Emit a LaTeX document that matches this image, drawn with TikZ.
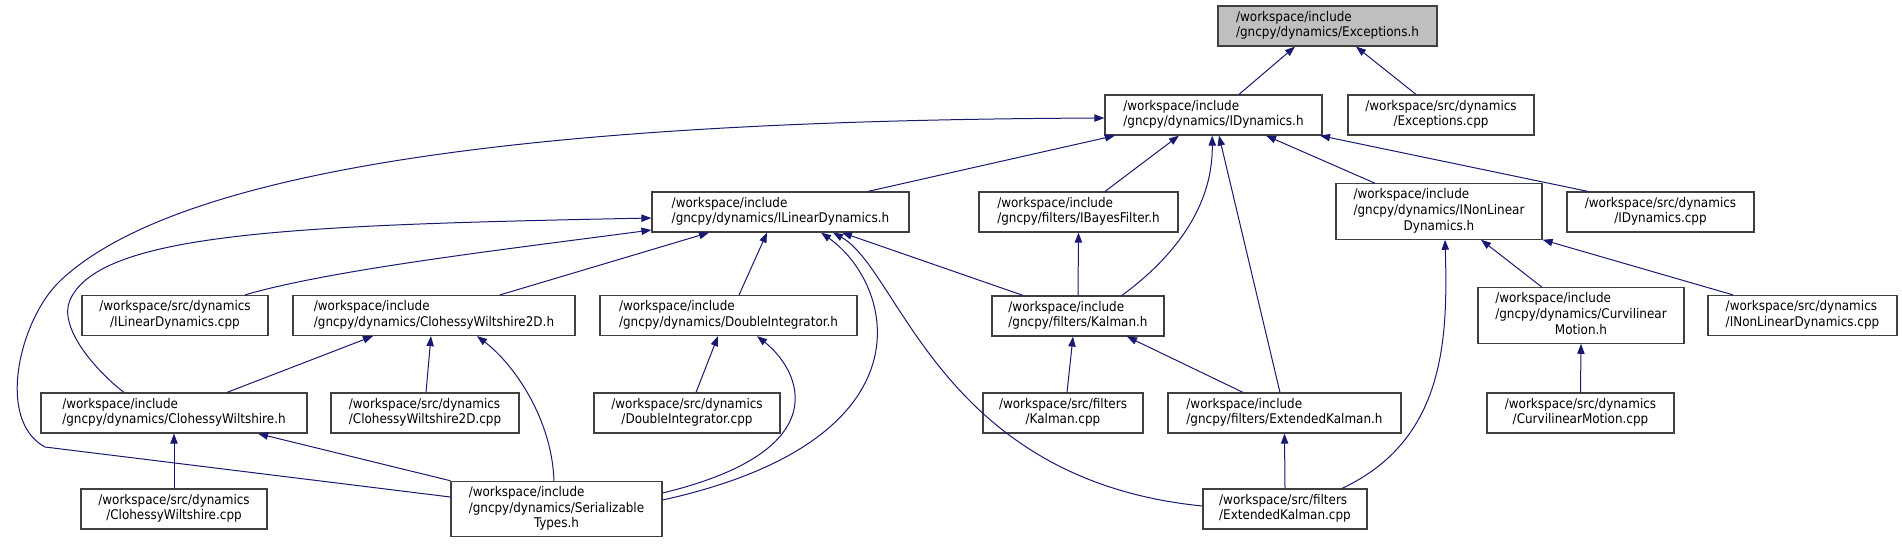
\documentclass[tikz,border=0pt]{standalone}
\usepackage{fontspec}
\setmainfont{DejaVu Sans Condensed}
\usepackage{tikz}
\usetikzlibrary{arrows.meta,positioning}
\definecolor{edgeblue}{RGB}{25, 25, 112}
\definecolor{rootgray}{RGB}{191, 191, 191}
\definecolor{boxborder}{RGB}{64, 64, 64}

% file labels: first lines left, last line centred
\newcommand{\fname}[2]{\begin{tabular}{@{}l@{}}#1\\\multicolumn{1}{@{}c@{}}{#2}\end{tabular}}
\newcommand{\fnamethree}[3]{\begin{tabular}{@{}l@{}}#1\\#2\\\multicolumn{1}{@{}c@{}}{#3}\end{tabular}}

\begin{document}
\begin{tikzpicture}[
    x=0.75pt, y=-0.75pt,
    file/.style={rectangle, draw=boxborder, fill=white, line width=0.9pt, inner sep=0pt, minimum height=30pt, font=\fontsize{10}{11.75}\selectfont},
    focus/.style={fill=rootgray},
    tall/.style={minimum height=41.5pt},
    fw/.style={minimum width=#1*0.75pt},
    incl/.style={draw=edgeblue, line width=0.75pt, <-, >={Triangle[length=7.5pt,width=5.5pt]}}
]
\useasboundingbox (0,0) rectangle (1902,543);

% Rank 0 and 1
\node[file, focus, fw=219] (exc_h) at (1327.5,26) {\fname{/workspace/include}{/gncpy/dynamics/Exceptions.h}};
\node[file, fw=217] (idyn_h) at (1213.5,115) {\fname{/workspace/include}{/gncpy/dynamics/IDynamics.h}};
\node[file, fw=186] (exc_cpp) at (1441,115) {\fname{/workspace/src/dynamics}{/Exceptions.cpp}};

% Rank 2
\node[file, fw=257] (ilin_h) at (780.5,212) {\fname{/workspace/include}{/gncpy/dynamics/ILinearDynamics.h}};
\node[file, fw=199] (ibayes_h) at (1078.5,212) {\fname{/workspace/include}{/gncpy/filters/IBayesFilter.h}};
\node[file, tall, fw=206] (inonlin_h) at (1439,211.5) {\fnamethree{/workspace/include}{/gncpy/dynamics/INonLinear}{Dynamics.h}};
\node[file, fw=187] (idyn_cpp) at (1660.5,212) {\fname{/workspace/src/dynamics}{/IDynamics.cpp}};

% Rank 3
\node[file, fw=186] (ilin_cpp) at (175,315.5) {\fname{/workspace/src/dynamics}{/ILinearDynamics.cpp}};
\node[file, fw=282] (cw2d_h) at (434,315.5) {\fname{/workspace/include}{/gncpy/dynamics/ClohessyWiltshire2D.h}};
\node[file, fw=257] (dint_h) at (728.5,315.5) {\fname{/workspace/include}{/gncpy/dynamics/DoubleIntegrator.h}};
\node[file, fw=172] (kalman_h) at (1078,316) {\fname{/workspace/include}{/gncpy/filters/Kalman.h}};
\node[file, tall, fw=206] (curv_h) at (1581,315.5) {\fnamethree{/workspace/include}{/gncpy/dynamics/Curvilinear}{Motion.h}};
\node[file, fw=189] (inonlin_cpp) at (1802.5,315.5) {\fname{/workspace/src/dynamics}{/INonLinearDynamics.cpp}};

% Rank 4
\node[file, fw=266] (cw_h) at (174,413) {\fname{/workspace/include}{/gncpy/dynamics/ClohessyWiltshire.h}};
\node[file, fw=188] (cw2d_cpp) at (425,413) {\fname{/workspace/src/dynamics}{/ClohessyWiltshire2D.cpp}};
\node[file, fw=186] (dint_cpp) at (687,413) {\fname{/workspace/src/dynamics}{/DoubleIntegrator.cpp}};
\node[file, fw=160] (kalman_cpp) at (1063,413) {\fname{/workspace/src/filters}{/Kalman.cpp}};
\node[file, fw=233] (ekf_h) at (1284.5,413) {\fname{/workspace/include}{/gncpy/filters/ExtendedKalman.h}};
\node[file, fw=187] (curv_cpp) at (1580.5,413) {\fname{/workspace/src/dynamics}{/CurvilinearMotion.cpp}};

% Rank 5
\node[file, fw=186] (cw_cpp) at (174,509) {\fname{/workspace/src/dynamics}{/ClohessyWiltshire.cpp}};
\node[file, tall, fw=211] (ser_h) at (556.5,509) {\fnamethree{/workspace/include}{/gncpy/dynamics/Serializable}{Types.h}};
\node[file, fw=164] (ekf_cpp) at (1285,509) {\fname{/workspace/src/filters}{/ExtendedKalman.cpp}};

% Exceptions.h
\draw[incl] ([xshift=-24.4pt]exc_h.south) -- ([xshift=19.1pt]idyn_h.north);
\draw[incl] ([xshift=21.4pt]exc_h.south) -- ([xshift=-18.75pt]exc_cpp.north);

% IDynamics.h
\draw[incl] ([xshift=-73.9pt]idyn_h.south) -- ([xshift=65.6pt]ilin_h.north);
\draw[incl] ([xshift=-25.9pt]idyn_h.south) -- ([xshift=19.9pt]ibayes_h.north);
\draw[incl] ([xshift=-1pt]idyn_h.south) .. controls (1213,210) and (1170,260) .. ([xshift=33pt]kalman_h.north);
\draw[incl] ([xshift=4.1pt]idyn_h.south) -- ([xshift=-3.4pt]ekf_h.north);
\draw[incl] ([xshift=39.4pt]idyn_h.south) -- ([xshift=-48pt]inonlin_h.north);
\draw[incl] ([xshift=79.9pt]idyn_h.south) -- ([xshift=-54.4pt]idyn_cpp.north);
\draw[incl] ([yshift=-2.25pt]idyn_h.west) .. controls (650,120) and (200,150) .. (61,280)
    .. controls (20,318) and (-5,420) .. (45,447) -- ([yshift=9pt]ser_h.west);

% ILinearDynamics.h
\draw[incl] ([yshift=-13.5pt]ilin_h.west) .. controls (500,250) and (330,270) .. ([xshift=52.5pt]ilin_cpp.north);
\draw[incl] ([yshift=-4.5pt]ilin_h.west) .. controls (300,225) and (100,232) .. (70,300)
    .. controls (58,327) and (95,370) .. ([xshift=-37.5pt]cw_h.north);
\draw[incl] ([xshift=-53.6pt]ilin_h.south) -- ([xshift=49.5pt]cw2d_h.north);
\draw[incl] ([xshift=-10.1pt]ilin_h.south) -- ([xshift=7.9pt]dint_h.north);
\draw[incl] ([xshift=30.4pt]ilin_h.south) .. controls (895,285) and (935,440) .. ([yshift=6.75pt]ser_h.east);
\draw[incl] ([xshift=39.4pt]ilin_h.south) .. controls (900,270) and (940,480) .. ([yshift=2.25pt]ekf_cpp.west);
\draw[incl] ([xshift=46.1pt]ilin_h.south) -- ([xshift=-41.25pt]kalman_h.north);

% ClohessyWiltshire2D.h
\draw[incl] ([xshift=-45.75pt]cw2d_h.south) -- ([xshift=39.75pt]cw_h.north);
\draw[incl] ([xshift=-2.25pt]cw2d_h.south) -- ([xshift=0.75pt]cw2d_cpp.north);
\draw[incl] ([xshift=32.25pt]cw2d_h.south) .. controls (515,365) and (552,420) .. ([xshift=-1.9pt]ser_h.north);

% DoubleIntegrator.h
\draw[incl] ([xshift=-7.9pt]dint_h.south) -- ([xshift=6.75pt]dint_cpp.north);
\draw[incl] ([xshift=21.4pt]dint_h.south) .. controls (800,370) and (840,450) .. ([yshift=12pt]ser_h.east);

% ClohessyWiltshire.h
\draw[incl] (cw_h.south) -- (cw_cpp.north);
\draw[incl] ([xshift=63pt]cw_h.south) -- (ser_h.north west);

% filters
\draw[incl] (ibayes_h.south) -- (kalman_h.north);
\draw[incl] ([xshift=-3.75pt]kalman_h.south) -- ([xshift=3pt]kalman_cpp.north);
\draw[incl] ([xshift=36.75pt]kalman_h.south) -- ([xshift=-31.1pt]ekf_h.north);
\draw[incl] (ekf_h.south) -- (ekf_cpp.north);

% INonLinearDynamics.h
\draw[incl] ([xshift=4.5pt]inonlin_h.south) .. controls (1448,340) and (1445,440) .. ([xshift=42.75pt]ekf_cpp.north);
\draw[incl] ([xshift=31.5pt]inonlin_h.south) -- ([xshift=-29.25pt]curv_h.north);
\draw[incl] (inonlin_h.south east) -- ([xshift=-52.1pt]inonlin_cpp.north);
\draw[incl] (curv_h.south) -- (curv_cpp.north);

\end{tikzpicture}
\end{document}
